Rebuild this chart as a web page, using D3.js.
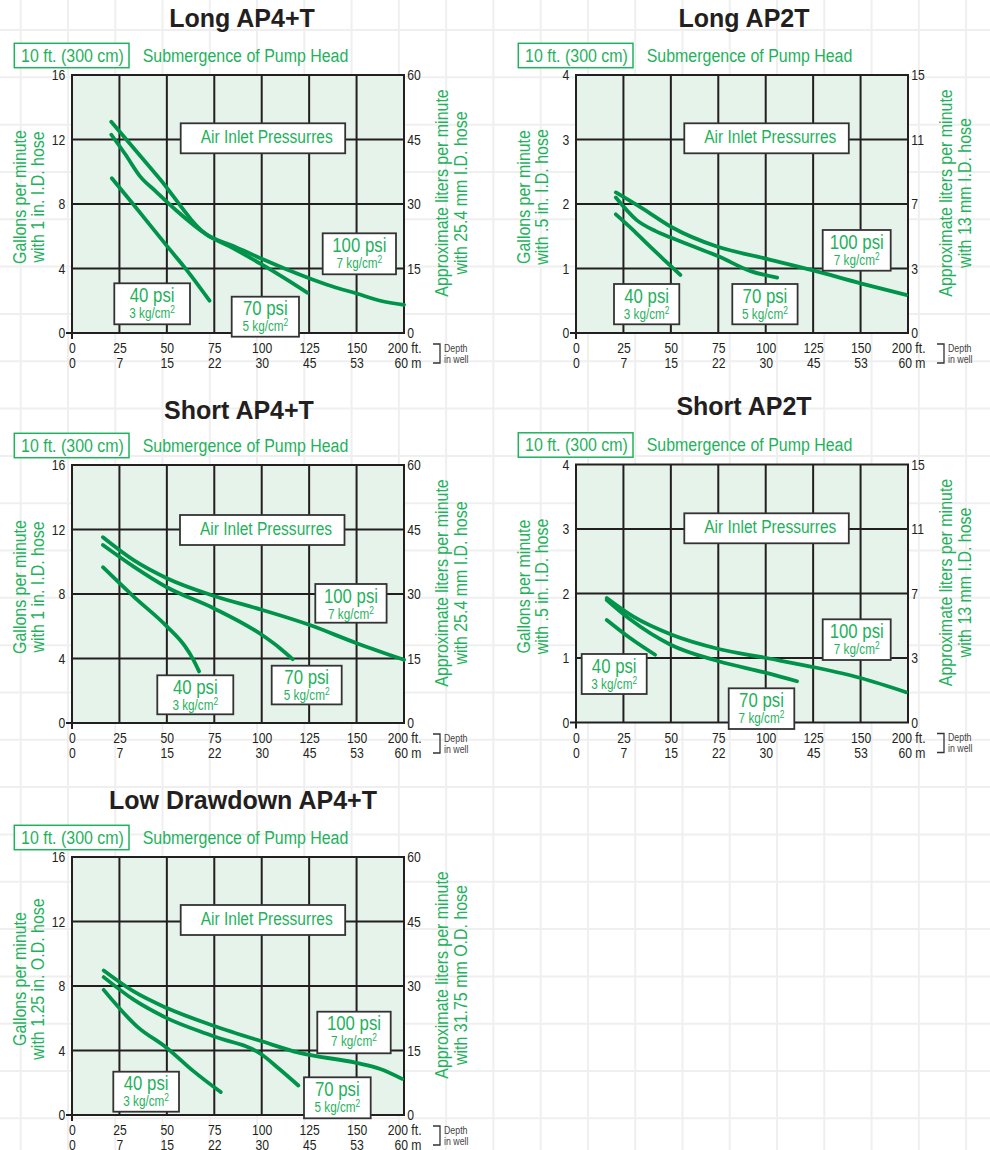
<!DOCTYPE html>
<html lang="en">
<head>
  <meta charset="UTF-8">
  <title>Air pump performance curves</title>
  <style>
    body { margin: 0; background: #fff; }
    svg { display: block; font-family: 'Liberation Sans', Arial, sans-serif; }
  </style>
</head>
<body>
  <div id="chart"></div>
  <script src="https://d3js.org/d3.v7.min.js"></script>
  <script>
    const width = 990
    const height = 1150
    const plotW = 332
    const plotH = 258
    // no condensed font installed, so squeeze Liberation Sans horizontally
    const squeeze = 0.84

    // depth in well (x axis)
    const depthFt = [0, 25, 50, 75, 100, 125, 150, 200]
    const depthM = [0, 7, 15, 22, 30, 45, 53, 60]

    // y axis ticks: gallons per minute (left) / liters per minute (right)
    const gpmTicksBig = [0, 4, 8, 12, 16]
    const lpmTicksBig = [0, 15, 30, 45, 60]
    const gpmTicksSmall = [0, 1, 2, 3, 4]
    const lpmTicksSmall = [0, 3, 7, 11, 15]

    // curves: [depth ft, gallons per minute]
    const longAP4_40 = [[21, 9.6], [32.5, 7.95], [50, 5.4], [60.5, 3.9], [72.5, 2.0]]
    const longAP4_70 = [[20.7, 12.3], [28, 11.1], [36, 9.7], [44, 8.8], [55, 7.6], [71, 6.1], [85, 5.25], [100, 4.25], [112, 3.4], [124, 2.5]]
    const longAP4_100 = [[20.7, 13.1], [46, 9.6], [71, 6.1], [85, 5.4], [100, 4.6], [112, 4.0], [125, 3.4], [137, 2.9], [150, 2.45], [175, 2.0], [200, 1.75]]

    const longAP2_40 = [[21, 1.84], [30, 1.6], [38, 1.37], [47, 1.12], [55, 0.9]]
    const longAP2_70 = [[21, 2.1], [32, 1.75], [42, 1.58], [50, 1.48], [62, 1.34], [75, 1.19], [92, 0.96], [106, 0.86]]
    const longAP2_100 = [[21, 2.18], [35.6, 1.92], [50.5, 1.64], [74.3, 1.34], [99, 1.16], [125, 0.97], [150, 0.77], [198, 0.59]]

    const shortAP4_40 = [[16.3, 9.66], [32.5, 7.84], [50, 5.99], [59.6, 4.75], [64, 3.92], [67, 3.2]]
    const shortAP4_70 = [[16.3, 11.04], [32.5, 9.7], [50, 8.42], [74.6, 7.12], [100, 5.47], [109.6, 4.64], [116.3, 3.96]]
    const shortAP4_100 = [[16.3, 11.52], [32.5, 10.1], [50, 8.98], [74.6, 7.89], [100, 7.02], [125, 6.09], [150, 4.95], [200, 3.92]]

    const shortAP2_40 = [[16.2, 1.59], [28.5, 1.31], [41.7, 1.05]]
    const shortAP2_70 = [[16.2, 1.9], [28.5, 1.6], [49.6, 1.21], [75.2, 0.95], [100.4, 0.77], [116.5, 0.64]]
    const shortAP2_100 = [[16.2, 1.93], [30.3, 1.64], [50.5, 1.36], [75.2, 1.14], [100.4, 1.0], [125, 0.86], [150, 0.69], [198, 0.47]]

    const lowAP4_40 = [[16.7, 7.76], [34.2, 5.5], [50, 4.16], [64, 2.72], [78.4, 1.42]]
    const lowAP4_70 = [[16.7, 8.55], [32.5, 7.15], [50, 6.01], [74.6, 4.88], [100, 3.75], [109.6, 2.82], [119.3, 1.83]]
    const lowAP4_100 = [[16.7, 8.96], [32.5, 7.66], [50, 6.63], [74.6, 5.54], [100, 4.57], [120, 3.85], [150, 3.23], [175, 2.85], [198, 2.24]]

    const pressures = ['40 psi', '70 psi', '100 psi']

    const green = '#1fb25c'
    const lineGreen = '#00944a'
    const ink = '#231f20'

    // layout of the five panels
    const charts = [
      {
        title: 'Long AP4+T', x: 72, y: 75, tx: 170, ty: -48,
        gpm: gpmTicksBig, lpm: lpmTicksBig,
        left: ['Gallons per minute', 'with 1 in. I.D. hose'],
        right: ['Approximate liters per minute', 'with 25.4 mm I.D. hose'],
        curves: [longAP4_40, longAP4_70, longAP4_100],
        kg: ['3', '5', '7'],
        air: [108.7, 48.3],
        boxes: [[42.3, 208.3, 75.7, 41], [159.7, 221.7, 67.3, 40], [250.7, 158.3, 73.3, 41]]
      },
      {
        title: 'Long AP2T', x: 576, y: 75, tx: 168, ty: -48,
        gpm: gpmTicksSmall, lpm: lpmTicksSmall,
        left: ['Gallons per minute', 'with .5 in. I.D. hose'],
        right: ['Approximate liters per minute', 'with 13 mm I.D. hose'],
        curves: [longAP2_40, longAP2_70, longAP2_100],
        kg: ['3', '5', '7'],
        air: [108.3, 48.3],
        boxes: [[38, 209, 65.3, 40.3], [156.3, 209, 65.3, 40.3], [246.7, 155, 68, 40.7]]
      },
      {
        title: 'Short AP4+T', x: 72, y: 465, tx: 167, ty: -46,
        gpm: gpmTicksBig, lpm: lpmTicksBig,
        left: ['Gallons per minute', 'with 1 in. I.D. hose'],
        right: ['Approximate liters per minute', 'with 25.4 mm I.D. hose'],
        curves: [shortAP4_40, shortAP4_70, shortAP4_100],
        kg: ['3', '5', '7'],
        air: [108, 50],
        boxes: [[85.3, 210.3, 76, 39], [199.7, 200.7, 70, 38.7], [243.3, 119, 71.3, 38.7]]
      },
      {
        title: 'Short AP2T', x: 576, y: 464.5, tx: 168, ty: -50,
        gpm: gpmTicksSmall, lpm: lpmTicksSmall,
        left: ['Gallons per minute', 'with .5 in. I.D. hose'],
        right: ['Approximate liters per minute', 'with 13 mm I.D. hose'],
        curves: [shortAP2_40, shortAP2_70, shortAP2_100],
        kg: ['3', '7', '7'],
        air: [108.3, 48.8],
        boxes: [[5.7, 189.5, 65, 40], [152.7, 223.8, 65.6, 40.7], [246.7, 154.8, 68, 40.7]]
      },
      {
        title: 'Low Drawdown AP4+T', x: 72, y: 857, tx: 171, ty: -48.5,
        gpm: gpmTicksBig, lpm: lpmTicksBig,
        left: ['Gallons per minute', 'with 1.25 in. O.D. hose'],
        right: ['Approximate liters per minute', 'with 31.75 mm O.D. hose'],
        curves: [lowAP4_40, lowAP4_70, lowAP4_100],
        kg: ['3', '5', '7'],
        air: [108.7, 48],
        boxes: [[41.3, 214.7, 65.7, 40], [232, 220.3, 66.7, 41], [245.3, 154.7, 73.4, 41.6]]
      }
    ]

    const svg = d3.select('#chart').append('svg')
      .attr('width', width)
      .attr('height', height)

    // light paper grid behind everything
    const bg = svg.append('g')
      .attr('stroke', '#efefef')
      .attr('stroke-width', 2)
    bg.selectAll('.bgv')
      .data(d3.range(0, 21))
      .join('line')
      .attr('x1', d => 20.7 + d * 47.27)
      .attr('x2', d => 20.7 + d * 47.27)
      .attr('y1', 0)
      .attr('y2', height)
    bg.selectAll('.bgh')
      .data(d3.range(0, 25))
      .join('line')
      .attr('x1', 0)
      .attr('x2', width)
      .attr('y1', d => 30 + d * 47.32)
      .attr('y2', d => 30 + d * 47.32)

    // text placed with a translate, then squeezed
    function label(g, x, y, str, size, opts = {}) {
      return g.append('text')
        .attr('transform', `translate(${x},${y})${opts.rotate ? ' rotate(-90)' : ''} scale(${squeeze},1)`)
        .attr('text-anchor', opts.anchor || 'start')
        .attr('font-size', size)
        .attr('fill', opts.fill || green)
        .text(str)
    }

    function drawChart(c) {
      const g = svg.append('g').attr('transform', `translate(${c.x},${c.y})`)

      // evenly spaced columns, last one jumps 150 -> 200 ft
      const x = d3.scaleLinear()
        .domain(depthFt)
        .range(depthFt.map((d, i) => i * plotW / (depthFt.length - 1)))
      const y = d3.scaleLinear()
        .domain([0, c.gpm[c.gpm.length - 1]])
        .range([plotH, 0])

      // title
      g.append('text')
        .attr('x', c.tx)
        .attr('y', c.ty)
        .attr('text-anchor', 'middle')
        .attr('font-weight', 'bold')
        .attr('font-size', 25)
        .attr('fill', ink)
        .text(c.title)

      // submergence line
      g.append('rect')
        .attr('x', -57.7).attr('y', -31.7)
        .attr('width', 114.7).attr('height', 24.4)
        .attr('fill', '#fff')
        .attr('stroke', green)
        .attr('stroke-width', 1.5)
      label(g, 0.5, -13.3, '10 ft. (300 cm)', 19, { anchor: 'middle' })
      label(g, 70.7, -13.3, 'Submergence of Pump Head', 19)

      // plot area
      g.append('rect')
        .attr('width', plotW)
        .attr('height', plotH)
        .attr('fill', '#e6f3eb')

      g.append('g')
        .selectAll('line')
        .data(depthFt.slice(1, -1))
        .join('line')
        .attr('x1', d => x(d)).attr('x2', d => x(d))
        .attr('y1', 0).attr('y2', plotH)
        .attr('stroke', ink)
        .attr('stroke-width', 2)

      g.append('g')
        .selectAll('line')
        .data(c.gpm.slice(1, -1))
        .join('line')
        .attr('x1', 0).attr('x2', plotW)
        .attr('y1', d => y(d)).attr('y2', d => y(d))
        .attr('stroke', ink)
        .attr('stroke-width', 2)

      g.append('rect')
        .attr('width', plotW)
        .attr('height', plotH)
        .attr('fill', 'none')
        .attr('stroke', ink)
        .attr('stroke-width', 2)

      // little ticks at the origin
      g.append('path')
        .attr('d', `M-6,${plotH}H0M0,${plotH}V${plotH + 6}`)
        .attr('stroke', ink)
        .attr('stroke-width', 2)

      // axes
      const leftAxis = g.append('g')
        .call(d3.axisLeft(y).tickValues(c.gpm).tickSize(0).tickPadding(8)
          .tickFormat(d3.format('d')))
      const rightAxis = g.append('g')
        .attr('transform', `translate(${plotW},0)`)
        .call(d3.axisRight(y).tickValues(c.gpm).tickSize(0).tickPadding(4)
          .tickFormat((d, i) => c.lpm[i]))
      const ftAxis = g.append('g')
        .attr('transform', `translate(0,${plotH})`)
        .call(d3.axisBottom(x).tickValues(depthFt).tickSize(0).tickPadding(10)
          .tickFormat(d => d === 200 ? '200 ft.' : d))
      const mAxis = g.append('g')
        .attr('transform', `translate(0,${plotH})`)
        .call(d3.axisBottom(x).tickValues(depthFt).tickSize(0).tickPadding(25)
          .tickFormat((d, i) => i === depthM.length - 1 ? depthM[i] + ' m' : depthM[i]))

      for (const a of [leftAxis, rightAxis, ftAxis, mAxis]) {
        a.attr('font-family', null).attr('font-size', 14.5)
        a.select('.domain').remove()
        a.selectAll('text')
          .attr('fill', ink)
          .attr('transform', `scale(${squeeze},1)`)
      }
      for (const a of [ftAxis, mAxis]) {
        a.selectAll('.tick:last-of-type text')
          .attr('text-anchor', 'end')
          .attr('x', 17 / squeeze)
      }

      // depth in well bracket
      g.append('path')
        .attr('d', `M${plotW + 29},${plotH + 11}H${plotW + 36}V${plotH + 30}H${plotW + 29}`)
        .attr('fill', 'none')
        .attr('stroke', '#333')
        .attr('stroke-width', 1.3)
      label(g, plotW + 40, plotH + 18.5, 'Depth', 10.5, { fill: '#444' })
      label(g, plotW + 40, plotH + 29.5, 'in well', 10.5, { fill: '#444' })

      // axis titles
      c.left.forEach((t, i) => {
        label(g, -46 + i * 18, 122, t, 19, { anchor: 'middle', rotate: true })
      })
      c.right.forEach((t, i) => {
        label(g, plotW + 44.3 + i * 18.4, 118, t, 19, { anchor: 'middle', rotate: true })
      })

      // performance curves
      const line = d3.line()
        .x(d => x(d[0]))
        .y(d => y(d[1]))
        .curve(d3.curveMonotoneX)
      g.append('g')
        .selectAll('path')
        .data(c.curves)
        .join('path')
        .attr('d', line)
        .attr('fill', 'none')
        .attr('stroke', lineGreen)
        .attr('stroke-width', 3.8)
        .attr('stroke-linecap', 'round')

      // "Air Inlet Pressurres" box
      g.append('rect')
        .attr('x', c.air[0]).attr('y', c.air[1])
        .attr('width', 164.5).attr('height', 30)
        .attr('fill', '#fff')
        .attr('stroke', '#333')
        .attr('stroke-width', 1.8)
      label(g, c.air[0] + 86, c.air[1] + 20, 'Air Inlet Pressurres', 18.5, { anchor: 'middle' })

      // pressure labels
      c.boxes.forEach((b, i) => {
        g.append('rect')
          .attr('x', b[0]).attr('y', b[1])
          .attr('width', b[2]).attr('height', b[3])
          .attr('fill', '#fff')
          .attr('stroke', '#333')
          .attr('stroke-width', 1.8)
        label(g, b[0] + b[2] / 2, b[1] + 18.5, pressures[i], 20, { anchor: 'middle' })
        const kg = label(g, b[0] + b[2] / 2, b[1] + 34.5, null, 14, { anchor: 'middle' })
        kg.append('tspan').text(c.kg[i] + ' kg/cm')
        kg.append('tspan').attr('font-size', 10).attr('dy', -5).text('2')
      })
    }

    charts.forEach(drawChart)
  </script>
</body>
</html>
